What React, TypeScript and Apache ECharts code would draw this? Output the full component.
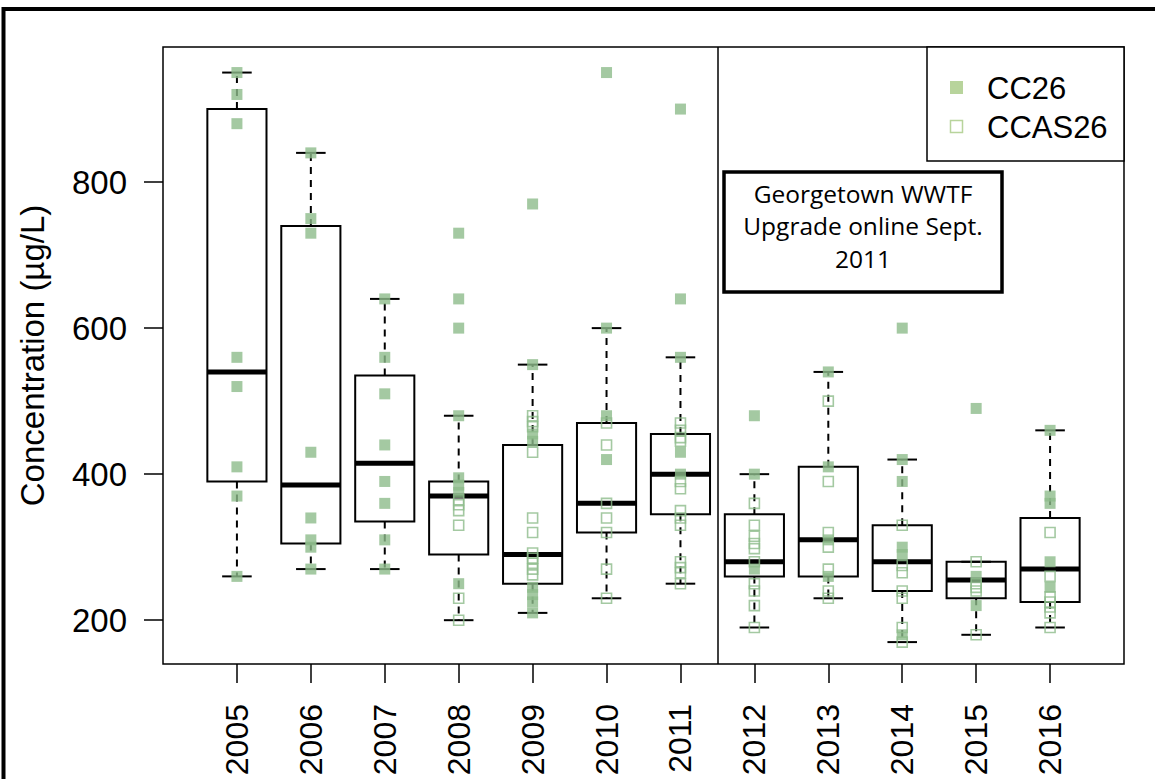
import React, { useEffect, useRef } from "react";
import * as echarts from "echarts";

// ---- Data ----
const years = ["2005", "2006", "2007", "2008", "2009", "2010", "2011", "2012", "2013", "2014", "2015", "2016"];
const yTicks = [200, 400, 600, 800];

// Box statistics per year
const boxMin = [260, 270, 270, 200, 210, 230, 250, 190, 230, 170, 180, 190];
const boxQ1 = [390, 305, 335, 290, 250, 320, 345, 260, 260, 240, 230, 225];
const boxMedian = [540, 385, 415, 370, 290, 360, 400, 280, 310, 280, 255, 270];
const boxQ3 = [900, 740, 535, 390, 440, 470, 455, 345, 410, 330, 280, 340];
const boxMax = [950, 840, 640, 480, 550, 600, 560, 400, 540, 420, 280, 460];

// CC26 (filled squares) per year
const cc26 = [
  [950, 920, 880, 560, 520, 410, 370, 260],
  [840, 750, 730, 430, 340, 310, 300, 270],
  [640, 560, 510, 440, 390, 360, 310, 270],
  [730, 640, 600, 480, 395, 385, 375, 250],
  [770, 550, 455, 445, 245, 235, 225, 210],
  [950, 600, 480, 420],
  [900, 640, 560, 430, 400],
  [480, 400, 270],
  [540, 410, 310, 260],
  [600, 420, 390, 300, 290, 180],
  [490, 260, 220],
  [460, 370, 360, 280, 245],
];

// CCAS26 (hollow squares) per year
const ccas26 = [
  [],
  [],
  [],
  [365, 358, 350, 330, 230, 200],
  [480, 472, 465, 430, 340, 320, 292, 285, 278, 270, 262],
  [470, 440, 360, 340, 320, 270, 230],
  [470, 460, 450, 445, 390, 380, 350, 340, 330, 280, 272, 265, 250],
  [360, 330, 315, 305, 298, 280, 250, 240, 220, 190],
  [500, 390, 320, 300, 270, 240, 230],
  [330, 275, 265, 240, 230, 190, 170],
  [280, 250, 245, 240, 180],
  [320, 260, 232, 225, 218, 210, 190],
];

const upgradeDivider = 7.5; // between 2011 and 2012
const annotationLines = ["Georgetown WWTF", "Upgrade online Sept.", "2011"];
const legendNames = ["CC26", "CCAS26"];

const GREEN = "#8dbb8b";
const LEGEND_GREEN = "#b8d49c";
const FONT = "'Liberation Sans', Arial, Helvetica, sans-serif";

export default function App() {
  const ref = useRef<HTMLDivElement>(null);

  useEffect(() => {
    const chart = echarts.init(ref.current!, null, { renderer: "svg" });
    const positions = years.map((_, i) => i + 1);
    const boxData = years.map((_, i) => [i + 1, boxMin[i], boxQ1[i], boxMedian[i], boxQ3[i], boxMax[i]]);
    const ccData: number[][] = [];
    cc26.forEach((vals, i) => vals.forEach((v) => ccData.push([i + 1, v])));
    const casData: number[][] = [];
    ccas26.forEach((vals, i) => vals.forEach((v) => casData.push([i + 1, v])));

    const option: any = {
      animation: false,
      backgroundColor: "#fff",
      grid: {
        left: 163,
        right: 31,
        top: 47,
        bottom: 115,
        show: true,
        borderColor: "#000",
        borderWidth: 1.5,
        containLabel: false,
      },
      xAxis: {
        type: "value",
        min: 0,
        max: 13,
        axisLine: { show: false, onZero: false },
        splitLine: { show: false },
        axisTick: {
          show: true,
          length: 19,
          customValues: positions,
          lineStyle: { color: "#000", width: 1.5 },
        },
        axisLabel: {
          customValues: positions,
          formatter: (v: number) => years[Math.round(v) - 1] ?? "",
          rotate: 90,
          margin: 40,
          fontSize: 32,
          color: "#000",
          fontFamily: FONT,
        },
      },
      yAxis: {
        type: "value",
        min: 140,
        max: 985,
        name: "Concentration (µg/L)",
        nameLocation: "middle",
        nameGap: 114,
        nameTextStyle: { fontSize: 33, color: "#000", fontFamily: FONT },
        axisLine: { show: false },
        splitLine: { show: false },
        axisTick: {
          show: true,
          length: 19,
          customValues: yTicks,
          lineStyle: { color: "#000", width: 1.5 },
        },
        axisLabel: {
          customValues: yTicks,
          margin: 36,
          fontSize: 33,
          color: "#000",
          fontFamily: FONT,
        },
      },
      series: [
        {
          type: "custom",
          name: "box",
          data: boxData,
          encode: { x: 0, y: [1, 2, 3, 4, 5] },
          z: 2,
          renderItem: (params: any, api: any) => {
            const x = api.value(0);
            const lo = api.coord([x, api.value(1)]);
            const q1 = api.coord([x, api.value(2)]);
            const med = api.coord([x, api.value(3)]);
            const q3 = api.coord([x, api.value(4)]);
            const hi = api.coord([x, api.value(5)]);
            const halfW = api.size([0.8, 0])[0] / 2;
            const capHalf = halfW / 2;
            const cx = med[0];
            const children: any[] = [];
            if (lo[1] - q1[1] > 0.5) {
              children.push({
                type: "line",
                shape: { x1: cx, y1: q1[1], x2: cx, y2: lo[1] },
                style: { stroke: "#000", lineWidth: 2, lineDash: [7, 6] },
              });
            }
            if (q3[1] - hi[1] > 0.5) {
              children.push({
                type: "line",
                shape: { x1: cx, y1: q3[1], x2: cx, y2: hi[1] },
                style: { stroke: "#000", lineWidth: 2, lineDash: [7, 6] },
              });
            }
            children.push({
              type: "line",
              shape: { x1: cx - capHalf, y1: lo[1], x2: cx + capHalf, y2: lo[1] },
              style: { stroke: "#000", lineWidth: 2 },
            });
            children.push({
              type: "line",
              shape: { x1: cx - capHalf, y1: hi[1], x2: cx + capHalf, y2: hi[1] },
              style: { stroke: "#000", lineWidth: 2 },
            });
            children.push({
              type: "rect",
              shape: { x: cx - halfW, y: q3[1], width: halfW * 2, height: q1[1] - q3[1] },
              style: { fill: "rgba(0,0,0,0)", stroke: "#000", lineWidth: 2 },
            });
            children.push({
              type: "line",
              shape: { x1: cx - halfW, y1: med[1], x2: cx + halfW, y2: med[1] },
              style: { stroke: "#000", lineWidth: 5 },
            });
            return { type: "group", children };
          },
        },
        {
          type: "scatter",
          name: legendNames[0],
          data: ccData,
          symbol: "rect",
          symbolSize: 11,
          z: 3,
          itemStyle: { color: GREEN },
          markLine: {
            silent: true,
            symbol: ["none", "none"],
            label: { show: false },
            lineStyle: { color: "#000", width: 1.5, type: "solid" },
            data: [{ xAxis: upgradeDivider }],
          },
        },
        {
          type: "scatter",
          name: legendNames[1],
          data: casData,
          symbol: "rect",
          symbolSize: 10,
          z: 4,
          itemStyle: { color: "rgba(255,255,255,0)", borderColor: GREEN, borderWidth: 1.6 },
        },
      ],
      graphic: [
        // outer frame
        {
          type: "rect",
          shape: { x: 3.5, y: 9, width: 1200, height: 820 },
          style: { fill: "none", stroke: "#000", lineWidth: 4 },
          silent: true,
          z: 10,
        },
        // legend box
        {
          type: "rect",
          shape: { x: 927, y: 47, width: 197, height: 114 },
          style: { fill: "#fff", stroke: "#000", lineWidth: 1.5 },
          z: 10,
        },
        {
          type: "rect",
          shape: { x: 950, y: 81, width: 13, height: 13 },
          style: { fill: LEGEND_GREEN },
          z: 11,
        },
        {
          type: "rect",
          shape: { x: 950.5, y: 120.5, width: 12, height: 12 },
          style: { fill: "none", stroke: LEGEND_GREEN, lineWidth: 1.5 },
          z: 11,
        },
        {
          type: "text",
          x: 987,
          y: 88,
          style: { text: legendNames[0], fontSize: 31, fontFamily: FONT, fill: "#000", verticalAlign: "middle" },
          z: 11,
        },
        {
          type: "text",
          x: 987,
          y: 127,
          style: { text: legendNames[1], fontSize: 31, fontFamily: FONT, fill: "#000", verticalAlign: "middle" },
          z: 11,
        },
        // annotation box
        {
          type: "rect",
          shape: { x: 724, y: 172, width: 278, height: 120 },
          style: { fill: "#fff", stroke: "#000", lineWidth: 3.5 },
          z: 10,
        },
        ...annotationLines.map((t, i) => ({
          type: "text",
          x: 863,
          y: 193 + i * 32.5,
          style: {
            text: t,
            fontSize: 24.5,
            fontFamily: "'Open Sans', 'Noto Sans', sans-serif",
            fill: "#000",
            align: "center",
            verticalAlign: "middle",
          },
          z: 11,
        })),
      ],
    };

    chart.setOption(option);
    return () => chart.dispose();
  }, []);

  return (
    <div
      ref={ref}
      style={{ position: "absolute", left: 0, top: 0, width: 1155, height: 779, background: "#fff" }}
    />
  );
}
